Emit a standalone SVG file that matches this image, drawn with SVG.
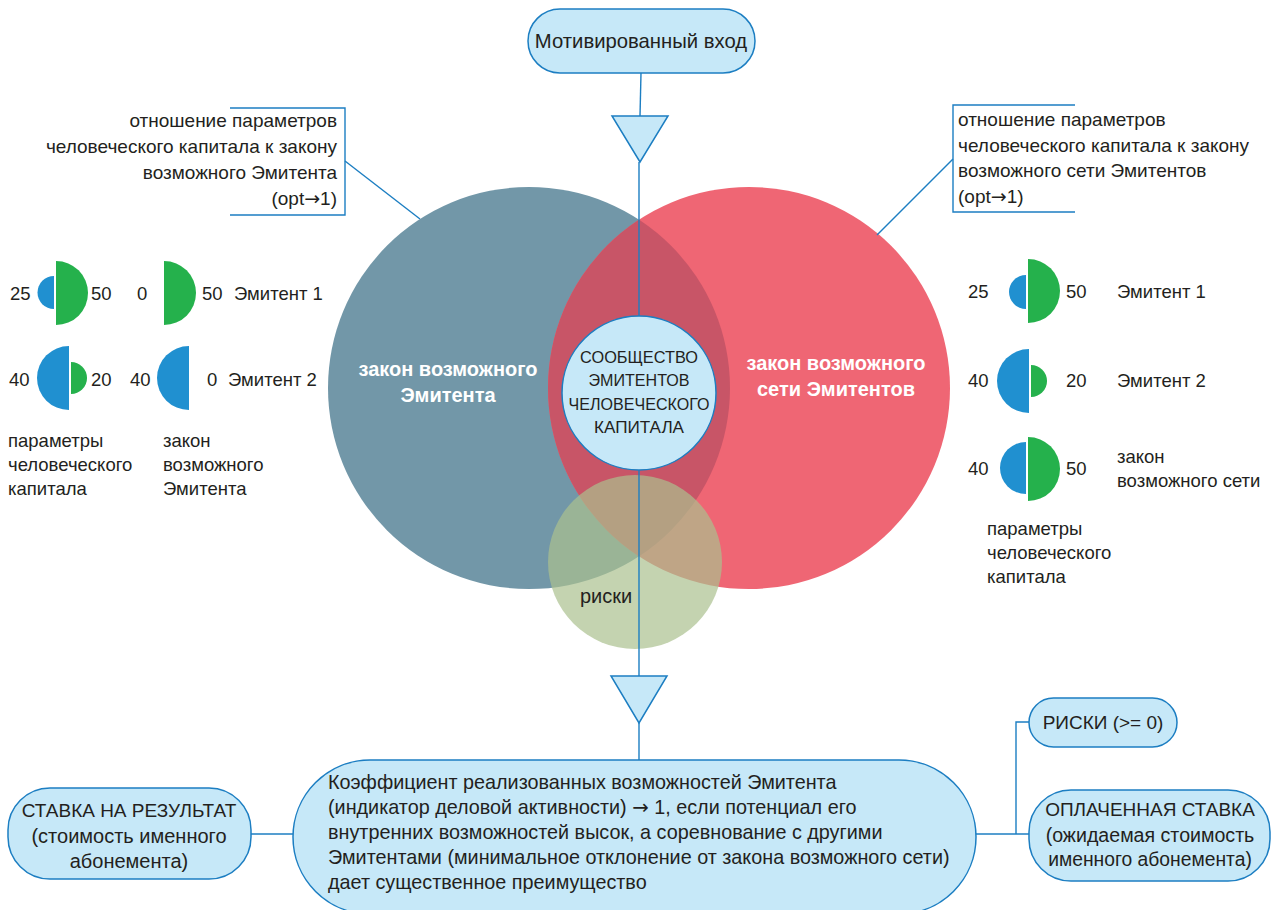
<svg xmlns="http://www.w3.org/2000/svg" width="1274" height="910" viewBox="0 0 1274 910">
<style>
text{font-family:"Liberation Sans",Arial,sans-serif;fill:#231f20}
.t18{font-size:18.5px}
.t19{font-size:19px}
.t20{font-size:19.8px}
.wb{font-size:20px;font-weight:bold;fill:#ffffff}
.ar{font-family:"DejaVu Sans",sans-serif}
.box{fill:#c6e8f8;stroke:#1c7ec2;stroke-width:1.5}
.ln{fill:none;stroke:#1c7ec2;stroke-width:1.4}
.bl{fill:#2090d0}
.gr{fill:#25b14c}
.mid{text-anchor:middle}
.end{text-anchor:end}
</style>
<defs>
<clipPath id="leftClip"><circle cx="529" cy="388" r="201"/></clipPath>
</defs>

<g id="venn">
<circle id="circle-emitent" cx="529" cy="388" r="201" fill="#7297a8"/>
<circle id="circle-network" cx="749" cy="388" r="201" fill="#ef6674"/>
<circle id="lens" cx="749" cy="388" r="201" fill="#c85567" clip-path="url(#leftClip)"/>
<circle id="circle-risk" cx="635" cy="562" r="87" fill="#abc18e" fill-opacity="0.7"/>
</g>

<g id="connectors">
<line class="ln" x1="641" y1="73" x2="640" y2="116"/>
<line class="ln" x1="639" y1="162" x2="639" y2="316"/>
<line class="ln" x1="639" y1="470" x2="639" y2="676"/>
<line class="ln" x1="639" y1="723" x2="639" y2="760"/>
<polyline class="ln" points="230,108 345,108 345,215 230,215"/>
<line class="ln" x1="345" y1="161" x2="420" y2="219"/>
<polyline class="ln" points="1075,105 953,105 953,212 1075,212"/>
<line class="ln" x1="953" y1="159" x2="877" y2="235"/>
<line class="ln" x1="251" y1="834" x2="293" y2="834"/>
<polyline class="ln" points="976,834 1029,834"/>
<polyline class="ln" points="1016,834 1016,722 1029,722"/>
</g>

<g id="triangle-top">
<polygon class="box" points="612,116 668,116 640,162"/>
</g>
<g id="triangle-bottom">
<polygon class="box" points="611,676 667,676 639,723"/>
</g>

<g id="node-input">
<rect class="box" x="528" y="9" width="227" height="64" rx="32"/>
<text class="mid" x="641" y="48" font-size="20.3">Мотивированный вход</text>
</g>

<g id="label-left">
<text class="t19 end" x="337" y="127">отношение параметров</text>
<text class="t19 end" x="337" y="153">человеческого капитала к закону</text>
<text class="t19 end" x="337" y="179">возможного Эмитента</text>
<text class="t19 end" x="337" y="205">(opt<tspan class="ar">→</tspan>1)</text>
</g>

<g id="label-right">
<text class="t19" x="958" y="126">отношение параметров</text>
<text class="t19" x="958" y="152">человеческого капитала к закону</text>
<text class="t19" x="958" y="177">возможного сети Эмитентов</text>
<text class="t19" x="958" y="203">(opt<tspan class="ar">→</tspan>1)</text>
</g>

<g id="venn-labels">
<text class="wb mid" x="448" y="376">закон возможного</text>
<text class="wb mid" x="448" y="402">Эмитента</text>
<text class="wb mid" x="836" y="370">закон возможного</text>
<text class="wb mid" x="836" y="396">сети Эмитентов</text>
<text x="580" y="603" font-size="20">риски</text>
</g>

<g id="node-community">
<circle class="box" cx="639" cy="393" r="77"/>
<text class="mid" x="639" y="363" font-size="17" textLength="118" lengthAdjust="spacingAndGlyphs">СООБЩЕСТВО</text>
<text class="mid" x="639" y="386" font-size="17" textLength="101" lengthAdjust="spacingAndGlyphs">ЭМИТЕНТОВ</text>
<text class="mid" x="639" y="410" font-size="17" textLength="141" lengthAdjust="spacingAndGlyphs">ЧЕЛОВЕЧЕСКОГО</text>
<text class="mid" x="639" y="433" font-size="17" textLength="90" lengthAdjust="spacingAndGlyphs">КАПИТАЛА</text>
</g>

<g id="legend-left">
<text class="t18" x="10" y="300">25</text>
<path class="bl" d="M54,276 A16.5,16.5 0 0 0 54,309 Z"/>
<path class="gr" d="M56,261 A32,32 0 0 1 56,325 Z"/>
<text class="t18" x="91" y="300">50</text>
<text class="t18" x="137" y="300">0</text>
<path class="gr" d="M164,261 A32,32 0 0 1 164,325 Z"/>
<text class="t18" x="202" y="300">50</text>
<text class="t18" x="234" y="300">Эмитент 1</text>

<text class="t18" x="9" y="386">40</text>
<path class="bl" d="M69,346 A32,32 0 0 0 69,410 Z"/>
<path class="gr" d="M71,362 A16,16 0 0 1 71,394 Z"/>
<text class="t18" x="91" y="386">20</text>
<text class="t18" x="130" y="386">40</text>
<path class="bl" d="M189,346 A32,32 0 0 0 189,410 Z"/>
<text class="t18" x="207" y="386">0</text>
<text class="t18" x="228" y="386">Эмитент 2</text>

<text class="t18" x="8" y="447">параметры</text>
<text class="t18" x="8" y="471">человеческого</text>
<text class="t18" x="8" y="495">капитала</text>
<text class="t18" x="163" y="447">закон</text>
<text class="t18" x="163" y="471">возможного</text>
<text class="t18" x="163" y="495">Эмитента</text>
</g>

<g id="legend-right">
<text class="t18" x="968" y="298">25</text>
<path class="bl" d="M1026,275 A17,17 0 0 0 1026,309 Z"/>
<path class="gr" d="M1028,259 A32,32 0 0 1 1028,323 Z"/>
<text class="t18" x="1066" y="298">50</text>
<text class="t18" x="1117" y="298">Эмитент 1</text>

<text class="t18" x="968" y="387">40</text>
<path class="bl" d="M1029,349 A32,32 0 0 0 1029,413 Z"/>
<path class="gr" d="M1031,365 A16,16 0 0 1 1031,397 Z"/>
<text class="t18" x="1066" y="387">20</text>
<text class="t18" x="1117" y="387">Эмитент 2</text>

<text class="t18" x="968" y="475">40</text>
<path class="bl" d="M1026,442 A26,26 0 0 0 1026,494 Z"/>
<path class="gr" d="M1028,437 A32,32 0 0 1 1028,501 Z"/>
<text class="t18" x="1066" y="475">50</text>
<text class="t18" x="1117" y="463">закон</text>
<text class="t18" x="1117" y="487">возможного сети</text>

<text class="t18" x="987" y="535">параметры</text>
<text class="t18" x="987" y="559">человеческого</text>
<text class="t18" x="987" y="583">капитала</text>
</g>

<g id="node-coefficient">
<rect class="box" x="293" y="760" width="683" height="154" rx="77"/>
<text class="t20" x="328" y="789">Коэффициент реализованных возможностей Эмитента</text>
<text class="t20" x="328" y="814">(индикатор деловой активности) <tspan class="ar">→</tspan> 1, если потенциал его</text>
<text class="t20" x="328" y="839">внутренних возможностей высок, а соревнование с другими</text>
<text class="t20" x="328" y="864">Эмитентами (минимальное отклонение от закона возможного сети)</text>
<text class="t20" x="328" y="889">дает существенное преимущество</text>
</g>

<g id="node-bet">
<rect class="box" x="8" y="788" width="243" height="91" rx="42"/>
<text class="t19 mid" x="129" y="817">СТАВКА НА РЕЗУЛЬТАТ</text>
<text class="mid" x="129" y="843" font-size="20">(стоимость именного</text>
<text class="mid" x="129" y="868" font-size="20">абонемента)</text>
</g>

<g id="node-risks">
<rect class="box" x="1029" y="698" width="148" height="49" rx="24.5"/>
<text class="t19 mid" x="1103" y="729">РИСКИ (&gt;= 0)</text>
</g>

<g id="node-paid">
<rect class="box" x="1029" y="790" width="241" height="91" rx="42"/>
<text class="t19 mid" x="1150" y="816">ОПЛАЧЕННАЯ СТАВКА</text>
<text class="mid" x="1150" y="842" font-size="19.6">(ожидаемая стоимость</text>
<text class="mid" x="1150" y="866" font-size="19.3">именного абонемента)</text>
</g>
</svg>
